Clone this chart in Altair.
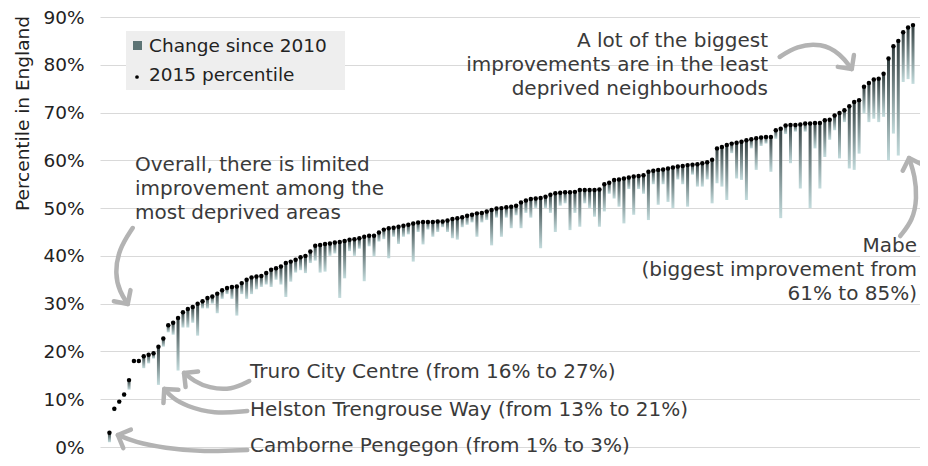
import math
import altair as alt
import pandas as pd

# ---- data ----
v2015 = [
    3, 8, 9.5, 11, 14, 18, 18, 19, 19.3, 19.6,
    21, 22.7, 25.5, 26, 27, 28.2, 28.9, 29.3, 30, 30.5,
    31.2, 31.5, 32.1, 32.8, 33.3, 33.5, 33.6, 34.3, 35, 35.5,
    35.7, 35.8, 36.4, 37.1, 37.4, 37.8, 38.5, 38.8, 39.2, 39.7,
    40, 40.9, 42.1, 42.3, 42.5, 42.6, 42.8, 42.9, 43.1, 43.4,
    43.5, 43.7, 44, 44.2, 44.2, 44.9, 45.5, 45.8, 45.9, 46.1,
    46.3, 46.5, 46.8, 47, 47.1, 47.1, 47.1, 47.2, 47.2, 47.4,
    47.7, 47.9, 48.1, 48.4, 48.6, 48.9, 49, 49.3, 49.6, 49.9,
    50, 50.2, 50.3, 50.5, 51.2, 51.6, 51.9, 52.0, 52.1, 52.4,
    52.8, 53.1, 53.2, 53.3, 53.3, 53.4, 53.8, 53.8, 53.8, 53.8,
    53.9, 55, 55.3, 55.9, 56, 56.2, 56.4, 56.6, 56.7, 56.9,
    57.6, 57.8, 58, 58.1, 58.3, 58.5, 58.7, 58.8, 59, 59.1,
    59.2, 59.4, 59.6, 60.1, 62.5, 62.8, 63.2, 63.5, 63.7, 63.9,
    64.2, 64.4, 64.6, 64.8, 64.9, 64.9, 66.3, 66.6, 67.3, 67.4,
    67.4, 67.5, 67.7, 67.7, 67.8, 67.8, 68.4, 68.5, 69.4, 69.9,
    70.5, 71.3, 72.2, 72.6, 75.4, 76.2, 76.9, 77.1, 78.1, 81.3,
    83.9, 85, 86.8, 87.8, 88.3,
]
v2010 = [
    1, 7.5, 9, 10.5, 12, 18, 18, 16.5, 17.5, 18.5,
    13, 21, 24, 23.5, 16, 25, 25, 26, 23.3, 29,
    29, 30, 28, 31, 32, 31, 27.5, 32, 31, 32,
    33, 33.5, 34, 33.5, 35, 34, 31.4, 34.6, 36.5, 37,
    36.4, 38.5, 39, 36.5, 36.7, 40, 40.5, 31.2, 35.3, 41,
    40, 41.5, 34.7, 42, 39.9, 43, 43.5, 39.5, 44, 42.5,
    44, 44.5, 38.8, 45, 42.4, 45.5, 44, 45, 46, 45,
    43.7, 43.4, 46, 46.5, 47, 44, 47, 47.5, 42.2, 48,
    44, 48, 45.8, 48.5, 45.8, 49, 48, 50, 41.6, 50,
    49, 45, 50.5, 51, 45.4, 49, 46.1, 51, 50, 48.2,
    46.1, 49.3, 53, 52, 50.3, 46.8, 54, 48.6, 54, 53,
    47.5, 55, 50.7, 55, 51.3, 50, 56, 55, 50.3, 57,
    54.5, 54.5, 56, 51, 55.2, 54.5, 51.7, 61.5, 56.2, 55.9,
    51.7, 62.5, 58, 63, 63.5, 57.6, 64.5, 47.9, 65.5, 59.4,
    66, 54.1, 66, 50, 62.5, 54.1, 60.7, 64.3, 66.3, 60.4,
    68, 58.3, 58, 61.4, 69.8, 68, 68.7, 68, 69.1, 60,
    65.6, 61, 76.4, 77, 76,
]
idx = list(range(len(v2015)))
y_ticks = [0, 10, 20, 30, 40, 50, 60, 70, 80, 90]

df = pd.DataFrame({"i": idx, "v2015": v2015, "v2010": v2010})

# ---- layout ----
W, H = 820, 430
LEFT, TOP, BOTTOM = 92, 9, 11   # plot origin on the page = (100, 17)
OX, OY = 8 + LEFT, 8 + TOP
XDOM = [-0.907, 164.41]
YDOM = [0, 90]
xscale = alt.Scale(domain=XDOM, nice=False, zero=False)
yscale = alt.Scale(domain=YDOM, nice=False, zero=False)

FONT = "DejaVu Sans"
TXT = "#3a3a3a"
ARROW = "#b3b3b3"

yaxis = alt.Axis(
    values=y_ticks, labelExpr="datum.value + '%'",
    title="Percentile in England", titleFont=FONT, titleFontSize=18.5,
    titleFontWeight="normal", titleColor="#222",
    titleX=-78, titleY=96, titleAlign="center", titleBaseline="middle",
    labelFont=FONT, labelFontSize=18.5, labelColor="#222", labelPadding=16,
    ticks=False, domain=False, grid=True, gridColor="#d9d9d9", gridWidth=1.2,
)

grad = alt.Gradient(
    gradient="linear",
    stops=[alt.GradientStop(color="#313d3e", offset=0),
           alt.GradientStop(color="#c4dcdd", offset=1)],
    x1=0, x2=0, y1=0, y2=1,
)

bars = alt.Chart(df).mark_bar(size=3, color=grad).encode(
    x=alt.X("i:Q", scale=xscale, axis=None),
    y=alt.Y("v2015:Q", scale=yscale, axis=yaxis),
    y2="v2010:Q",
)

dots = alt.Chart(df).mark_circle(size=20, color="#000000", opacity=1).encode(
    x=alt.X("i:Q", scale=xscale, axis=None),
    y=alt.Y("v2015:Q", scale=yscale, axis=yaxis),
)


def to_data(px, py):
    ux = W / (XDOM[1] - XDOM[0])
    uy = H / (YDOM[1] - YDOM[0])
    return (px - OX) / ux + XDOM[0], (OY + H - py) / uy


def box(x1, y1, x2, y2, fill):
    d = pd.DataFrame({"a": [0]})
    return alt.Chart(d).mark_rect(color=fill).encode(
        x=alt.value(x1 - OX), x2=alt.value(x2 - OX),
        y=alt.value(y1 - OY), y2=alt.value(y2 - OY))


def text(t, px, py, align="left", size=20, color=TXT):
    d = pd.DataFrame({"t": [t]})
    return alt.Chart(d).mark_text(
        align=align, baseline="middle", font=FONT, fontSize=size, color=color
    ).encode(text="t:N", x=alt.value(px - OX), y=alt.value(py - OY))


layers = [box(126, 31, 345, 90, "#eeeeee"), bars, dots]

# ---- legend ----
layers.append(box(133, 41, 142, 50, "#5d7475"))
legend_dot = alt.Chart(pd.DataFrame({"a": [0]})).mark_circle(
    size=14, color="#000", opacity=1).encode(x=alt.value(137 - OX), y=alt.value(77 - OY))
layers.append(legend_dot)
layers.append(text("Change since 2010", 149, 46, size=18.5, color="#222"))
layers.append(text("2015 percentile", 149, 75, size=18.5, color="#222"))

# ---- annotations ----
notes_right = [
    ("A lot of the biggest", 768, 41),
    ("improvements are in the least", 768, 65),
    ("deprived neighbourhoods", 768, 89),
    ("Mabe", 917, 246),
    ("(biggest improvement from", 917, 270),
    ("61% to 85%)", 917, 294),
]
notes_left = [
    ("Overall, there is limited", 135, 165),
    ("improvement among the", 135, 189),
    ("most deprived areas", 135, 213),
    ("Truro City Centre (from 16% to 27%)", 250, 372),
    ("Helston Trengrouse Way (from 13% to 21%)", 250, 410),
    ("Camborne Pengegon (from 1% to 3%)", 250, 446),
]
for t, px, py in notes_right:
    layers.append(text(t, px, py, align="right"))
for t, px, py in notes_left:
    layers.append(text(t, px, py, align="left"))

# ---- curved arrows (page pixel paths) ----
arrows = {
    "a": [(783, 57), (800, 46), (825, 43), (845, 54), (856, 69)],
    "b": [(128, 228), (114, 249), (110, 274), (115, 292), (123, 304)],
    "c": [(905, 236), (918, 220), (922, 198), (920, 176), (914, 158)],
    "d": [(246, 381), (228, 390), (205, 388), (190, 381), (180, 373)],
    "e": [(244, 411), (210, 414), (182, 406), (168, 398), (160, 389)],
    "f": [(244, 450), (200, 452), (160, 448), (130, 442), (113, 435)],
}
rows, heads = [], []
for k, pts in arrows.items():
    for n, (px, py) in enumerate(pts):
        dx, dy = to_data(px, py)
        rows.append({"id": k, "n": n, "ax": dx, "ay": dy})
    (x0, y0), (x1, y1) = pts[-2], pts[-1]
    ang = math.degrees(math.atan2(x1 - x0, -(y1 - y0))) % 360
    hx, hy = to_data(x1, y1)
    heads.append({"id": k, "ax": hx, "ay": hy, "ang": ang})
arr_df = pd.DataFrame(rows)
head_df = pd.DataFrame(heads)

arrow_lines = alt.Chart(arr_df).mark_line(
    interpolate="basis", color=ARROW, strokeWidth=4.5, strokeCap="round"
).encode(
    x=alt.X("ax:Q", scale=xscale, axis=None),
    y=alt.Y("ay:Q", scale=yscale, axis=yaxis),
    detail="id:N", order="n:Q",
)
arrow_heads = alt.Chart(head_df).mark_point(
    shape="M -1 1 L 0 0 L 1 1", size=400, filled=False, color=ARROW,
    strokeWidth=4.5, opacity=1, strokeCap="round", strokeJoin="round",
).encode(
    x=alt.X("ax:Q", scale=xscale, axis=None),
    y=alt.Y("ay:Q", scale=yscale, axis=yaxis),
    angle=alt.Angle("ang:Q", scale=None),
)
layers += [arrow_lines, arrow_heads]

chart = alt.layer(*layers).properties(
    width=W, height=H,
    autosize=alt.AutoSizeParams(type="none"),
    padding={"left": LEFT, "top": TOP, "right": 0, "bottom": BOTTOM},
).configure(background="white").configure_view(stroke=None)

chart.save("out.html", embed_options={"renderer": "svg", "actions": False})
